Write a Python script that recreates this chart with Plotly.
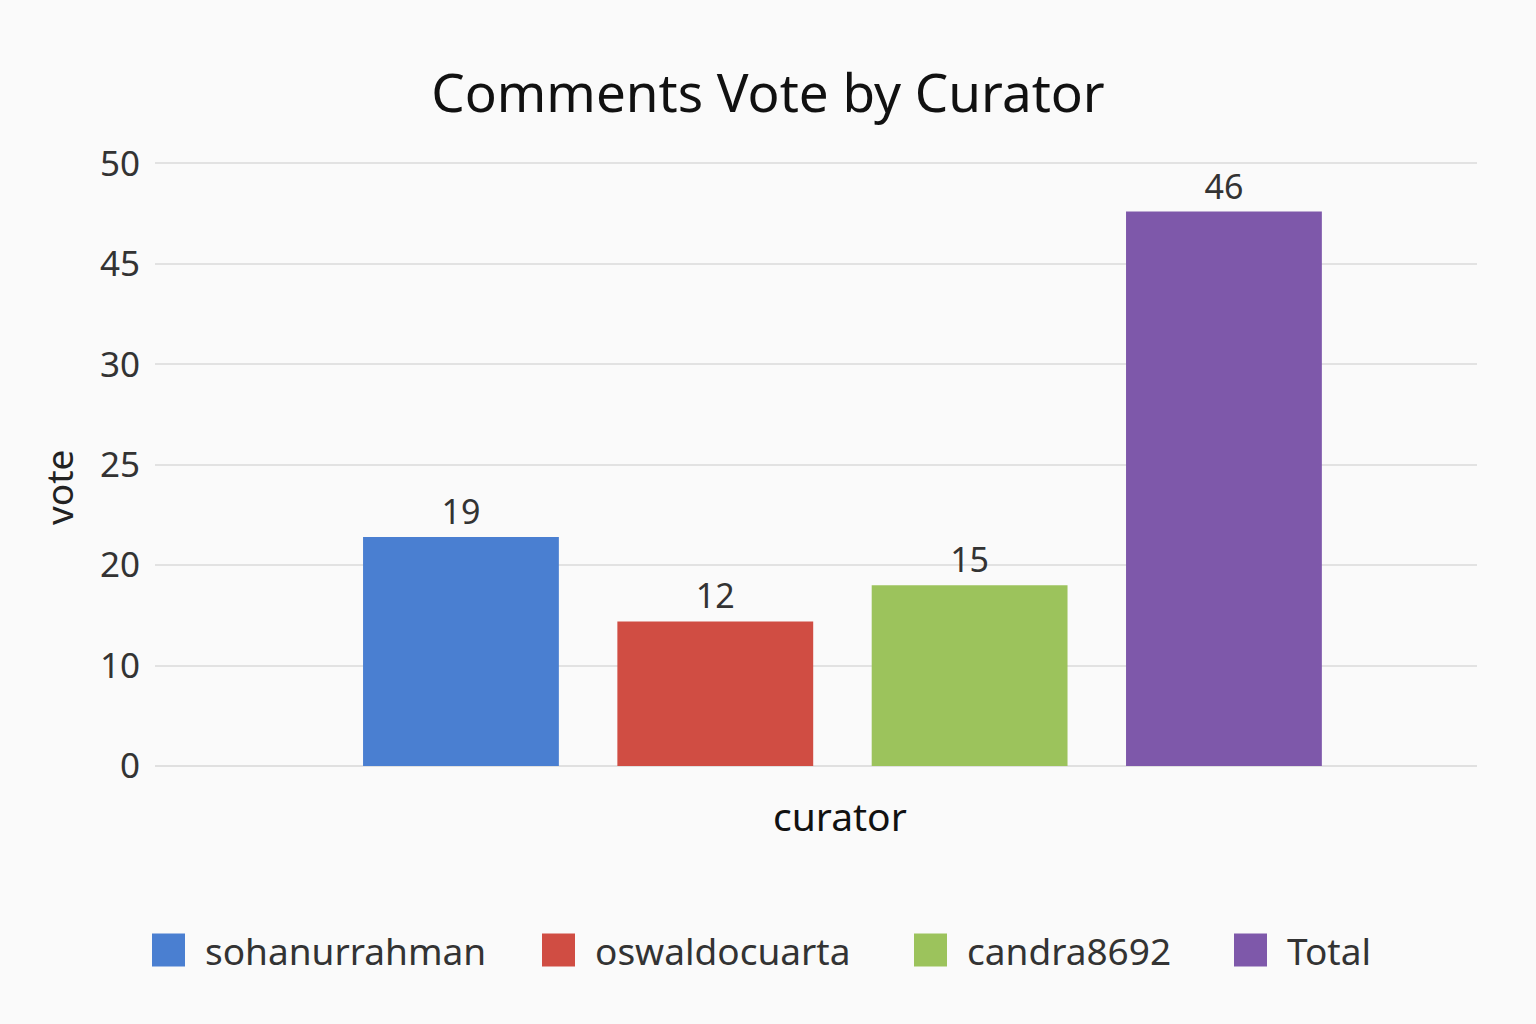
import numpy as np
import plotly.graph_objects as go

# ---- data ----
curators = ["sohanurrahman", "oswaldocuarta", "candra8692", "Total"]
votes = [19, 12, 15, 46]
y_tick_labels = ["0", "10", "20", "25", "30", "45", "50"]

# ---- styles ----
colors = ["#4a7fd1", "#d04d43", "#9cc35c", "#7e58aa"]
FONT = "Noto Sans, Open Sans, Lato, sans-serif"
BG = "#fafafa"

W, H = 1536, 1024
L, R, T, B = 155, 59, 161, 258
PW, PH = W - L - R, H - T - B

fig = go.Figure()
for name, v, c in zip(curators, votes, colors):
    fig.add_trace(go.Bar(
        x=[name], y=[v], name=name,
        marker=dict(color=c, line=dict(width=0)),
        width=0.77,
        text=[str(v)], textposition="outside",
        textfont=dict(size=34, color="#333333", family=FONT),
        cliponaxis=False,
        showlegend=False,
    ))

y_max = 50
tickvals = np.linspace(0, y_max, len(y_tick_labels))

fig.update_layout(
    width=W, height=H,
    paper_bgcolor=BG, plot_bgcolor=BG,
    barmode="overlay",
    margin=dict(l=L, r=R, t=T, b=B),
    font=dict(family=FONT, color="#333333"),
    title=dict(text="Comments Vote by Curator", x=0.5, xanchor="center",
               y=1 - 93 / H, yanchor="middle",
               font=dict(size=53, color="#111111", family=FONT)),
    xaxis=dict(
        categoryorder="array", categoryarray=curators,
        range=[-1.203, 3.995],
        showticklabels=False, showgrid=False, zeroline=False, showline=False,
    ),
    yaxis=dict(
        range=[0, y_max + 0.2],
        tickvals=tickvals, ticktext=y_tick_labels,
        tickfont=dict(size=35, color="#333333"),
        ticklabelstandoff=14,
        gridcolor="#e2e2e2", gridwidth=2,
        zeroline=True, zerolinecolor="#e0e0e0", zerolinewidth=2,
        showline=False,
    ),
)

# axis titles as annotations (positioned like the reference)
fig.add_annotation(text="curator", xref="paper", yref="paper",
                   x=(840 - L) / PW, y=-(815 - (H - B)) / PH,
                   xanchor="center", yanchor="middle", showarrow=False,
                   font=dict(size=39, color="#111111", family=FONT))
fig.add_annotation(text="vote", xref="paper", yref="paper",
                   x=(58 - L) / PW, y=1 - (488 - T) / PH, textangle=-90,
                   xanchor="center", yanchor="middle", showarrow=False,
                   font=dict(size=37, color="#222222", family=FONT))

# ---- manual legend (large square swatches) ----
legend_x = [152, 542, 914, 1234]   # left edge of each swatch, px
sw = 33
leg_y = 950
for name, c, lx in zip(curators, colors, legend_x):
    fig.add_shape(type="rect", xref="paper", yref="paper",
                  x0=(lx - L) / PW, x1=(lx + sw - L) / PW,
                  y0=-(leg_y + sw / 2 - (H - B)) / PH,
                  y1=-(leg_y - sw / 2 - (H - B)) / PH,
                  fillcolor=c, line=dict(width=0), layer="above")
    fig.add_annotation(text=name, xref="paper", yref="paper",
                       x=(lx + sw + 18 - L) / PW,
                       y=-(leg_y - (H - B)) / PH,
                       xanchor="left", yanchor="middle", showarrow=False,
                       font=dict(size=37, color="#333333", family=FONT))

fig.write_html("out.html", config={"displayModeBar": False},
               post_script="document.body.style.margin='0';document.body.style.background='%s';" % BG)
